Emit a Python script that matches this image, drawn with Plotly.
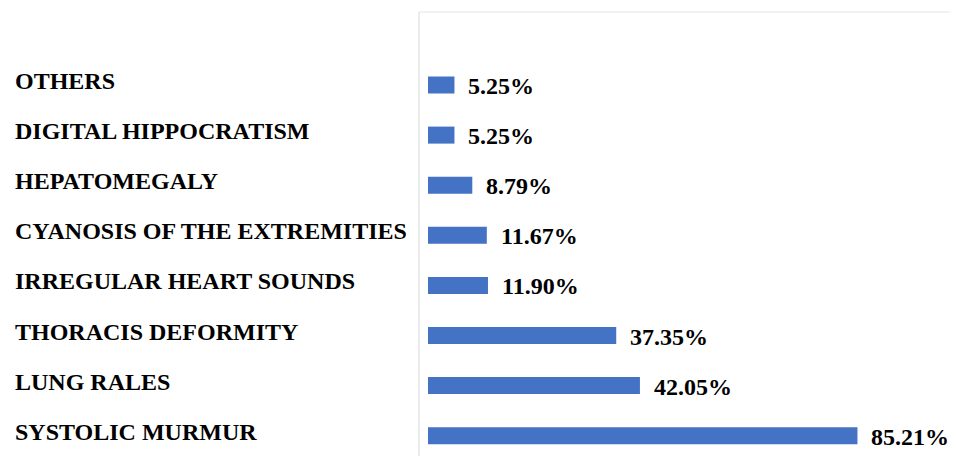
import plotly.graph_objects as go

categories = ["SYSTOLIC MURMUR", "LUNG RALES", "THORACIS DEFORMITY", "IRREGULAR HEART SOUNDS",
              "CYANOSIS OF THE EXTREMITIES", "HEPATOMEGALY", "DIGITAL HIPPOCRATISM", "OTHERS"]
values = [85.21, 42.05, 37.35, 11.90, 11.67, 8.79, 5.25, 5.25]
value_labels = ["85.21%", "42.05%", "37.35%", "11.90%", "11.67%", "8.79%", "5.25%", "5.25%"]

FONT = "Liberation Serif, Times New Roman, serif"
BAR_COLOR = "#4472C4"

# page body has an 8px margin; size the figure so it fills the window
OFF = 8
W, H = 958 - OFF, 456 - OFF
L, T = 419 - OFF, 12 - OFF
plot_w = W - L
plot_h = H - T

px_per_unit = 5.04
zero_px = 428 - 419  # bar origin offset from plot left edge

# y: category index 7 centred at y=85, index 0 at y=435.7 (window pixels)
step = (435.7 - 85) / 7
y_top = 7 + (85 - 12) / step
y_bot = 0 - (456 - 435.7) / step

fig = go.Figure(go.Bar(
    x=values, y=list(range(len(categories))), orientation="h",
    marker=dict(color=BAR_COLOR, line=dict(width=0)),
    width=17 / step, hoverinfo="skip",
))

annotations = []
for i, (c, v, lab) in enumerate(zip(categories, values, value_labels)):
    annotations.append(dict(
        x=(14 - 419) / plot_w, xref="paper", y=i, yref="y",
        text=f"<b>{c}</b>", showarrow=False, xanchor="left", yanchor="middle",
        yshift=4, borderpad=0,
        font=dict(family=FONT, size=24, color="black"),
    ))
    annotations.append(dict(
        x=v, xref="x", y=i, yref="y",
        text=f"<b>{lab}</b>", showarrow=False, xanchor="left", yanchor="middle",
        xshift=13, yshift=-1, borderpad=0,
        font=dict(family=FONT, size=24, color="black"),
    ))

fig.update_layout(
    width=W, height=H, autosize=False,
    margin=dict(l=L, r=0, t=T, b=0, pad=0),
    paper_bgcolor="white", plot_bgcolor="white",
    showlegend=False,
    xaxis=dict(range=[-zero_px / px_per_unit, (plot_w - zero_px) / px_per_unit],
               visible=False, fixedrange=True),
    yaxis=dict(range=[y_bot, y_top], showticklabels=False, showgrid=False,
               zeroline=False, fixedrange=True),
    annotations=annotations,
    shapes=[
        dict(type="line", xref="paper", yref="paper", x0=0, x1=0, y0=0, y1=1,
             line=dict(color="#d9d9d9", width=1)),
        dict(type="line", xref="paper", yref="paper", x0=0, x1=1, y0=1, y1=1,
             line=dict(color="#e6e6e6", width=1)),
    ],
)

fig.write_html("out.html", config={"displayModeBar": False})
